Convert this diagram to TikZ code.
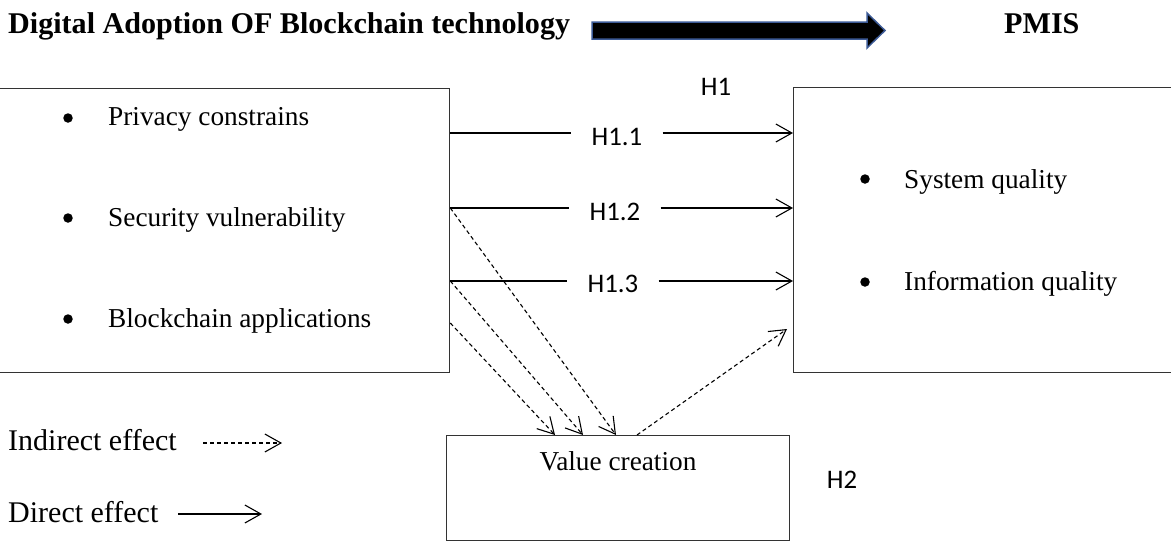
\documentclass[tikz,border=0pt]{standalone}
\usepackage{fontspec}
\setmainfont{Liberation Serif}
\newfontfamily\calibri{Carlito}
\usetikzlibrary{arrows.meta}
\definecolor{arrowedge}{RGB}{60,90,150}
\tikzset{
  box/.style={draw=black!80, line width=1.3pt},
  body/.style={font=\fontsize{27.3}{31}\selectfont, anchor=base west, inner sep=0pt},
  legend/.style={font=\fontsize{30}{34}\selectfont, anchor=base west, inner sep=0pt},
  head/.style={font=\bfseries\fontsize{30.1}{34}\selectfont, anchor=base west, inner sep=0pt},
  hlab/.style={font=\calibri\fontsize{26.8}{30}\selectfont, inner xsep=20pt, inner ysep=0pt},
  arr/.style={line width=1.1pt, -{Straight Barb[length=16pt,width=18pt,line width=1.1pt]}},
  darr/.style={arr, dash pattern=on 4pt off 3pt},
  line/.style={line width=1.1pt},
  bul/.style={circle, fill=black, inner sep=0pt, minimum size=9.5pt}
}
\begin{document}
\begin{tikzpicture}[x=1pt,y=-1pt]
\useasboundingbox (0,0) rectangle (1171,542);
% heading
\node[head] (title) at (8,33) {Digital Adoption OF Blockchain technology};
\node[head] (pmis) at (1004,33) {PMIS};
\draw[fill=black, draw=arrowedge, line width=1.5pt]
  (592,22) -- (867,22) -- (867,13) -- (885,30.5) -- (867,48) -- (867,39) -- (592,39) -- cycle;
% boxes
\node[box, minimum width=451pt, minimum height=284pt, inner sep=0pt, anchor=north west] (L) at (-2,88) {};
\node[box, minimum width=390pt, minimum height=285pt, inner sep=0pt, anchor=north west] (R) at (793,87) {};
\node[box, minimum width=343pt, minimum height=105pt, inner sep=0pt, anchor=north west] (V) at (446,435) {};
% left items
\node[bul] (b1) at (68,118) {};
\node[body] (t1) at (108,125) {Privacy constrains};
\node[bul] (b2) at (68,218) {};
\node[body] (t2) at (108,226) {Security vulnerability};
\node[bul] (b3) at (68,319) {};
\node[body] (t3) at (108,327) {Blockchain applications};
% right items
\node[bul] (b4) at (865,179) {};
\node[body] (t4) at (904,188) {System quality};
\node[bul] (b5) at (865,282) {};
\node[body] (t5) at (904,290) {Information quality};
% value creation
\node[body, anchor=base] (vt) at (618,470) {Value creation};
% labels
\node[hlab] (h1) at (716,86.5) {H1};
\node[hlab] (h11) at (617,136.5) {H1.1};
\node[hlab] (h12) at (615,211.5) {H1.2};
\node[hlab] (h13) at (613,283.5) {H1.3};
\node[hlab] (h2) at (842,480) {H2};
% connector endpoints
\coordinate (s1) at (L.east |- 0,133);
\coordinate (s2) at (L.east |- 0,208);
\coordinate (s3) at (L.east |- 0,281);
\coordinate (s4) at (L.east |- 0,323);
\coordinate (e1) at (R.west |- 0,133);
\coordinate (e2) at (R.west |- 0,208);
\coordinate (e3) at (R.west |- 0,281);
\coordinate (e4) at (787,329);
\coordinate (v1) at (V.north -| 555,0);
\coordinate (v2) at (V.north -| 583,0);
\coordinate (v3) at (V.north -| 616,0);
\coordinate (v4) at (V.north -| 637,0);
% direct effects
\draw[line] (s1) -- (h11.west |- s1);
\draw[arr] (h11.east |- s1) -- (e1);
\draw[line] (s2) -- (h12.west |- s2);
\draw[arr] (h12.east |- s2) -- (e2);
\draw[line] (s3) -- (h13.west |- s3);
\draw[arr] (h13.east |- s3) -- (e3);
% indirect effects
\draw[darr] (s2) -- (v3);
\draw[darr] (s3) -- (v2);
\draw[darr] (s4) -- (v1);
\draw[darr] (v4) -- (e4);
% legend
\node[legend] (ind) at (8,450) {Indirect effect};
\node[legend] (dir) at (8,522) {Direct effect};
\coordinate (la1) at (203,443);
\coordinate (la2) at (282,443);
\coordinate (lb1) at (178,514);
\coordinate (lb2) at (262,514);
\draw[darr] (la1) -- (la2);
\draw[arr] (lb1) -- (lb2);
\end{tikzpicture}
\end{document}
